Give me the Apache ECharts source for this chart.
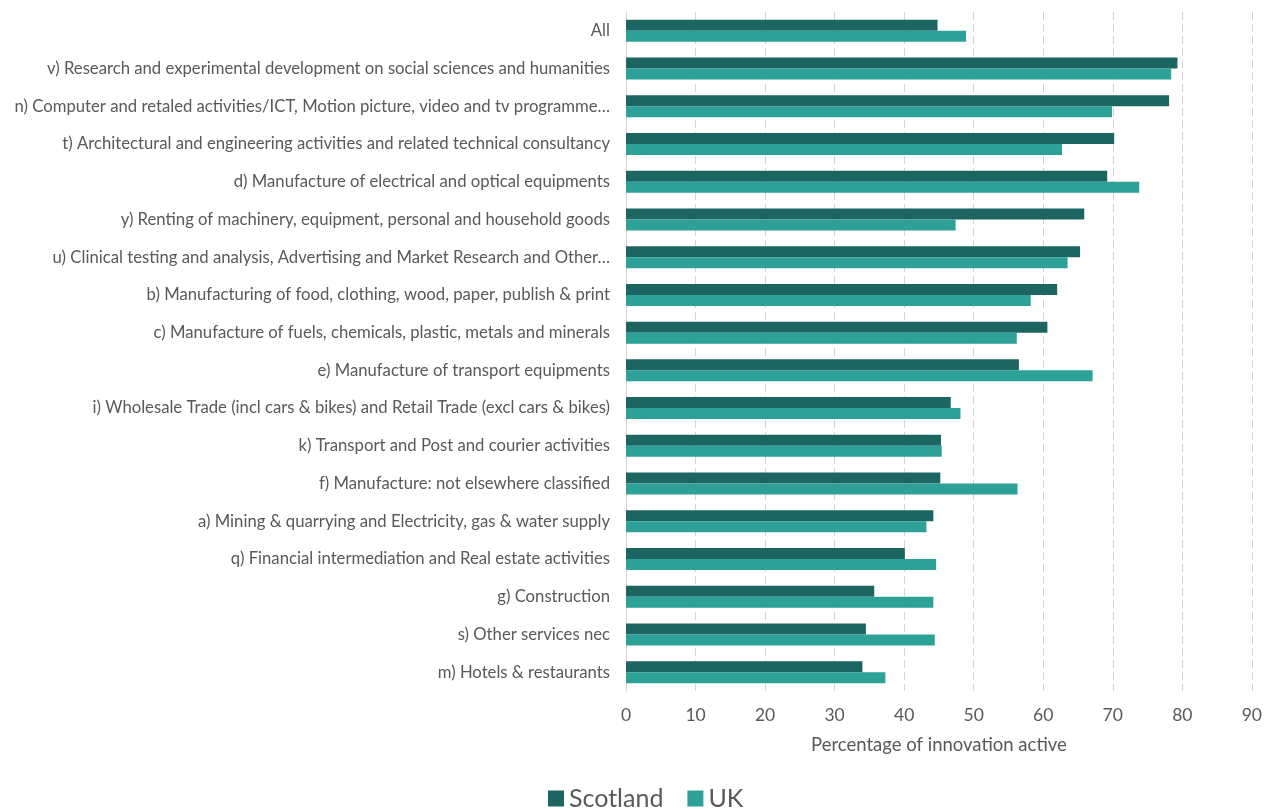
<!DOCTYPE html>
<html>
<head>
<meta charset="utf-8">
<script src="https://cdn.jsdelivr.net/npm/echarts@6/dist/echarts.min.js"></script>
<style>
  html, body { margin: 0; padding: 0; background: #ffffff; }
  #chart { width: 1265px; height: 809px; }
</style>
</head>
<body>
<div id="chart"></div>
<script>
// Industry sectors, top to bottom
const categories = [
  "All",
  "v) Research and experimental development on social sciences and humanities",
  "n) Computer and retaled activities/ICT, Motion picture, video and tv programme\u2026",
  "t) Architectural and engineering activities and related technical consultancy",
  "d) Manufacture of electrical and optical equipments",
  "y) Renting of machinery, equipment, personal and household goods",
  "u) Clinical testing and analysis, Advertising and Market Research and Other\u2026",
  "b) Manufacturing of food, clothing, wood, paper, publish & print",
  "c) Manufacture of fuels, chemicals, plastic, metals and minerals",
  "e) Manufacture of transport equipments",
  "i) Wholesale Trade (incl cars & bikes) and Retail Trade (excl cars & bikes)",
  "k) Transport and Post and courier activities",
  "f) Manufacture: not elsewhere classified",
  "a) Mining & quarrying and Electricity, gas & water supply",
  "q) Financial intermediation and Real estate activities",
  "g) Construction",
  "s) Other services nec",
  "m) Hotels & restaurants"
];

// Percentage of businesses that are innovation active
const scotland = [44.8, 79.3, 78.1, 70.2, 69.2, 65.9, 65.3, 62.0, 60.6, 56.5, 46.7, 45.3, 45.2, 44.2, 40.1, 35.7, 34.5, 34.0];
const uk       = [48.9, 78.4, 69.9, 62.7, 73.8, 47.4, 63.5, 58.2, 56.2, 67.1, 48.1, 45.4, 56.3, 43.2, 44.6, 44.2, 44.4, 37.3];

const xTicks = { min: 0, max: 90, interval: 10 };

const chart = echarts.init(document.getElementById('chart'), null, { renderer: 'canvas' });
const font = 'Lato, "Open Sans", sans-serif';

chart.setOption({
  animation: false,
  backgroundColor: '#ffffff',
  textStyle: { fontFamily: font },
  color: ['#1d6560', '#2da197'],
  grid: { left: 626, right: 10, top: 12, bottom: 118, containLabel: false },
  legend: {
    bottom: -7,
    left: 543,
    itemWidth: 16,
    itemHeight: 16,
    itemGap: 24,
    icon: 'rect',
    textStyle: { fontSize: 25, color: '#595959', fontFamily: font },
    data: ['Scotland', 'UK']
  },
  xAxis: {
    type: 'value',
    min: xTicks.min,
    max: xTicks.max,
    interval: xTicks.interval,
    name: 'Percentage of innovation active',
    nameLocation: 'middle',
    nameGap: 45,
    nameTextStyle: { fontSize: 18.5, color: '#595959', fontFamily: font },
    axisLine: { show: false },
    axisTick: { show: false },
    axisLabel: { fontSize: 17.5, color: '#595959', margin: 15, fontFamily: font },
    splitLine: { show: true, lineStyle: { color: '#d4d4d4', type: [8, 4], width: 1 } }
  },
  yAxis: {
    type: 'category',
    inverse: true,
    data: categories,
    axisLine: { show: true, lineStyle: { color: '#d4d4d4' } },
    axisTick: { show: false },
    axisLabel: { fontSize: 16.7, color: '#595959', margin: 16, fontFamily: font }
  },
  series: [
    {
      name: 'Scotland',
      type: 'bar',
      data: scotland,
      barWidth: 11,
      barGap: '0%',
      itemStyle: { color: '#1d6560' }
    },
    {
      name: 'UK',
      type: 'bar',
      data: uk,
      barWidth: 11,
      barGap: '0%',
      itemStyle: { color: '#2da197' }
    }
  ]
});
</script>
</body>
</html>
